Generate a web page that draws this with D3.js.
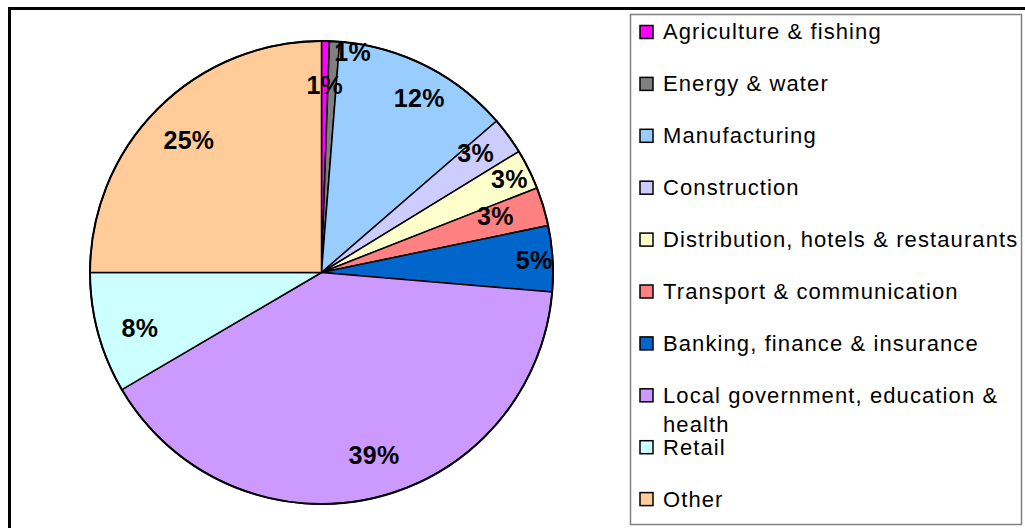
<!DOCTYPE html>
<html>
<head>
<meta charset="utf-8">
<script src="https://cdn.jsdelivr.net/npm/d3@7"></script>
<style>
  body { margin: 0; background: #fff; }
  svg { display: block; font-family: "Liberation Sans", Arial, sans-serif; }
</style>
</head>
<body>
<script>
// Share of employment by sector
var sectors = ['Agriculture & fishing', 'Energy & water', 'Manufacturing', 'Construction',
  'Distribution, hotels & restaurants', 'Transport & communication',
  'Banking, finance & insurance', 'Local government, education &\nhealth', 'Retail', 'Other'];
var shares = [0.55, 0.7, 12.4, 2.6, 2.8, 2.7, 4.6, 40.2, 8.45, 25.0];
var pctLabels = ['1%', '1%', '12%', '3%', '3%', '3%', '5%', '39%', '8%', '25%'];
var colours = ['#ff00ff', '#808080', '#99ccff', '#ccccff', '#ffffcc', '#ff8080',
  '#0066cc', '#cc99ff', '#ccffff', '#ffcc99'];

var width = 1025,
    height = 528;

var cx = 321.5, cy = 272.5, radius = 231.5;

// label placement tweaks (radius factor, angle shift in degrees), Excel "best fit"-ish
var labelPos = {
  1: [0.96, 4.8],
  2: [0.865, 2.4],
  3: [0.842, -1.6],
  4: [0.907, 0],
  5: [0.79, -1.5],
  6: [0.92, 0],
  7: [0.82, -3.3],
  8: [0.82, -1.7]
};

var svg = d3.select('body').append('svg')
    .attr('width', width)
    .attr('height', height);

// outer frame
svg.append('rect')
    .attr('x', 9.5).attr('y', 8.5)
    .attr('width', 1100).attr('height', 600)
    .attr('fill', 'none')
    .attr('stroke', '#000')
    .attr('stroke-width', 3);

var pie = d3.pie().sort(null).value(function(d) { return d; });
var arc = d3.arc().innerRadius(0).outerRadius(radius);
var arcs = pie(shares);

var g = svg.append('g')
    .attr('transform', 'translate(' + cx + ',' + cy + ')');

g.selectAll('path.slice')
    .data(arcs)
    .enter().append('path')
    .attr('class', 'slice')
    .attr('d', arc)
    .attr('fill', function(d, i) { return colours[i]; })
    .attr('stroke', '#000')
    .attr('stroke-width', 1.5)
    .attr('stroke-linejoin', 'round');

g.append('circle')
    .attr('r', radius)
    .attr('fill', 'none')
    .attr('stroke', '#000')
    .attr('stroke-width', 2);

g.selectAll('text.pct')
    .data(arcs)
    .enter().append('text')
    .attr('class', 'pct')
    .attr('x', function(d, i) {
      var p = labelPos[i] || [0.81, 0];
      var a = (d.startAngle + d.endAngle) / 2 + p[1] * Math.PI / 180;
      return Math.sin(a) * radius * p[0];
    })
    .attr('y', function(d, i) {
      var p = labelPos[i] || [0.81, 0];
      var a = (d.startAngle + d.endAngle) / 2 + p[1] * Math.PI / 180;
      return -Math.cos(a) * radius * p[0];
    })
    .attr('dy', '0.36em')
    .attr('text-anchor', 'middle')
    .attr('font-size', 25)
    .attr('font-weight', 'bold')
    .attr('letter-spacing', 0.3)
    .text(function(d, i) { return pctLabels[i]; });

// legend
var legend = svg.append('g');
legend.append('rect')
    .attr('x', 630.5).attr('y', 14.5)
    .attr('width', 391).attr('height', 510)
    .attr('fill', '#fff')
    .attr('stroke', '#808080')
    .attr('stroke-width', 1.5);

var ly = d3.scaleLinear().domain([0, 1]).range([31.5, 83.4]);

var item = legend.selectAll('g.item')
    .data(sectors)
    .enter().append('g')
    .attr('class', 'item')
    .attr('transform', function(d, i) { return 'translate(0,' + ly(i) + ')'; });

item.append('rect')
    .attr('x', 640).attr('y', -6)
    .attr('width', 13).attr('height', 13)
    .attr('fill', function(d, i) { return colours[i]; })
    .attr('stroke', '#000')
    .attr('stroke-width', 1.5);

item.append('text')
    .attr('x', 663)
    .attr('font-size', 22)
    .attr('letter-spacing', 1.1)
    .attr('fill', '#000')
    .each(function(d) {
      var lines = d.split('\n');
      var t = d3.select(this);
      lines.forEach(function(line, k) {
        t.append('tspan')
          .attr('x', 663)
          .attr('y', k * 29)
          .attr('dy', '0.36em')
          .text(line);
      });
    });
</script>
</body>
</html>
